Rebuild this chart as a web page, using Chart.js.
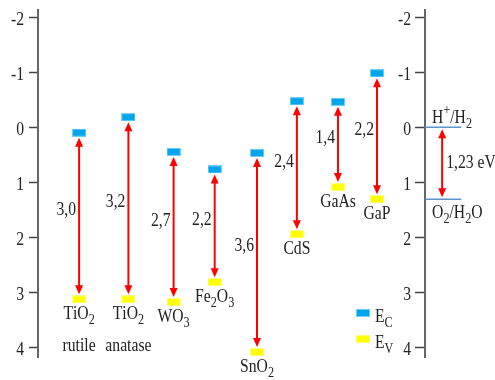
<!DOCTYPE html>
<html>
<head>
<meta charset="utf-8">
<script src="https://cdn.jsdelivr.net/npm/chart.js@4"></script>
<style>
  html, body { margin: 0; padding: 0; background: #fff; }
</style>
</head>
<body>
<canvas id="myChart" width="495" height="380"></canvas>
<script>
// band edges (eV vs NHE)
const materials = ['TiO_2', 'TiO_2', 'WO_3', 'Fe_2O_3', 'SnO_2', 'CdS', 'GaAs', 'GaP'];
const phases = ['rutile', 'anatase', '', '', '', '', '', ''];
const slots = [1, 2.2, 3.3, 4.3, 5.33, 6.3, 7.3, 8.25];
const ecValues = [0.1, -0.18, 0.45, 0.77, 0.47, -0.47, -0.46, -0.98];
const evValues = [3.13, 3.13, 3.18, 2.82, 4.09, 1.95, 1.09, 1.31];
const gapLabels = ['3,0', '3,2', '2,7', '2,2', '3,6', '2,4', '1,4', '2,2'];
const yTicks = [-2, -1, 0, 1, 2, 3, 4];
const redoxLevels = [0, 1.31];
const redoxNames = ['H^+/H_2', 'O_2/H_2O'];
const waterGap = '1,23 eV';
const legendNames = ['E_C', 'E_V'];

const rightAxisAt = 9.42;
const redoxEnd = 10.3;
const FONT = '"Liberation Serif", "Times New Roman", serif';
const TEXT = '#222';
const SQUISH = 0.87;   // the original type is narrow
const BIG = 18, SMALL = 14;

Chart.defaults.font.family = FONT;

function markerImg(fill, edge) {
  const c = document.createElement('canvas');
  c.width = 14; c.height = 8;
  const g = c.getContext('2d');
  g.fillStyle = edge;
  g.fillRect(0, 0, 14, 8);
  g.fillStyle = fill;
  g.fillRect(1, 1, 12, 6);
  return c;
}
const ecImg = markerImg('#00a6ec', '#6fcdf3');
const evImg = markerImg('#ffff00', '#ffff7a');

// tiny markup: _x subscript, ^x superscript; drawn narrow
function richText(ctx, str, x, y, align) {
  const parts = [];
  for (let i = 0; i < str.length; i++) {
    const ch = str[i];
    if ((ch === '_' || ch === '^') && i + 1 < str.length) {
      parts.push({ t: str[i + 1], k: ch });
      i++;
    } else {
      parts.push({ t: ch, k: '' });
    }
  }
  const big = BIG + 'px ' + FONT, small = SMALL + 'px ' + FONT;
  let w = 0;
  parts.forEach(p => {
    ctx.font = p.k ? small : big;
    p.w = ctx.measureText(p.t).width;
    w += p.w;
  });
  ctx.save();
  ctx.translate(x, y);
  ctx.scale(SQUISH, 1);
  let cx = align === 'center' ? -w / 2 : align === 'right' ? -w : 0;
  ctx.textAlign = 'left';
  ctx.textBaseline = 'middle';
  ctx.fillStyle = TEXT;
  parts.forEach(p => {
    ctx.font = p.k ? small : big;
    const dy = p.k === '_' ? 6 : p.k === '^' ? -8 : 0;
    ctx.fillText(p.t, cx, dy);
    cx += p.w;
  });
  ctx.restore();
}

function drawArrow(ctx, px, y1, y2) {
  const head = 9, half = 4;
  ctx.strokeStyle = '#ff0000';
  ctx.fillStyle = '#ff0000';
  ctx.lineWidth = 2;
  ctx.beginPath();
  ctx.moveTo(px, y1 + head - 1);
  ctx.lineTo(px, y2 - head + 1);
  ctx.stroke();
  ctx.beginPath();
  ctx.moveTo(px, y1);
  ctx.lineTo(px - half, y1 + head);
  ctx.lineTo(px + half, y1 + head);
  ctx.closePath();
  ctx.fill();
  ctx.beginPath();
  ctx.moveTo(px, y2);
  ctx.lineTo(px - half, y2 - head);
  ctx.lineTo(px + half, y2 - head);
  ctx.closePath();
  ctx.fill();
}

const bandPlugin = {
  id: 'bands',
  afterDatasetsDraw(chart) {
    const { ctx, scales: { x, y, y2 } } = chart;
    ctx.save();
    materials.forEach((m, i) => {
      const px = x.getPixelForValue(slots[i]);
      const ecPx = y.getPixelForValue(ecValues[i]);
      const evPx = y.getPixelForValue(evValues[i]);
      drawArrow(ctx, px, ecPx + 5, evPx - 5);
      richText(ctx, gapLabels[i], px - 3, (ecPx + evPx) / 2 - 6, 'right');
      richText(ctx, m, px, evPx + 15, 'center');
      if (phases[i]) richText(ctx, phases[i], px, evPx + 47, 'center');
    });

    // tick labels of both axes, on the left of each axis line
    const ax = x.getPixelForValue(rightAxisAt);
    [[y, x.left], [y2, ax]].forEach(([sc, edge]) => {
      sc.ticks.forEach(t => {
        richText(ctx, String(t.value), edge - 14, sc.getPixelForValue(t.value) + 3, 'right');
      });
    });

    // water redox window
    const hPx = y.getPixelForValue(redoxLevels[0]);
    const oPx = y.getPixelForValue(redoxLevels[1]);
    const arrX = x.getPixelForValue((rightAxisAt + redoxEnd) / 2) - 1;
    drawArrow(ctx, arrX, hPx + 2, oPx - 2);
    richText(ctx, redoxNames[0], ax + 7, hPx - 9, 'left');
    richText(ctx, redoxNames[1], ax + 7, oPx + 14, 'left');
    richText(ctx, waterGap, arrX + 4, (hPx + oPx) / 2, 'left');

    // legend
    const lx = x.getPixelForValue(7.91);
    const ly = [y.getPixelForValue(3.38), y.getPixelForValue(3.85)];
    [ecImg, evImg].forEach((img, k) => {
      ctx.drawImage(img, Math.round(lx - 7), Math.round(ly[k] - 4));
      richText(ctx, legendNames[k], lx + 12, ly[k] + 4, 'left');
    });
    ctx.restore();
  }
};

const axisStyle = {
  type: 'linear',
  reverse: true,
  min: -2.13,
  max: 4.18,
  afterBuildTicks: (scale) => { scale.ticks = yTicks.map(v => ({ value: v })); },
  grid: { drawOnChartArea: false, tickLength: 9, tickWidth: 1.5, tickColor: '#444' },
  border: { display: true, color: '#666', width: 2 },
  ticks: { display: false }
};

const ctx = document.getElementById('myChart');
new Chart(ctx, {
  type: 'scatter',
  data: {
    datasets: [
      {
        label: 'E_C',
        data: slots.map((s, i) => ({ x: s, y: ecValues[i] })),
        pointStyle: ecImg
      },
      {
        label: 'E_V',
        data: slots.map((s, i) => ({ x: s, y: evValues[i] })),
        pointStyle: evImg
      },
      ...redoxLevels.map(v => ({
        type: 'line',
        label: 'redox',
        data: [{ x: rightAxisAt, y: v }, { x: redoxEnd, y: v }],
        borderColor: '#5b95d0',
        borderWidth: 1.5,
        pointRadius: 0
      }))
    ]
  },
  options: {
    responsive: false,
    animation: false,
    events: [],
    layout: { padding: { top: 10, bottom: 23, left: 0, right: 5 } },
    plugins: { legend: { display: false }, tooltip: { enabled: false } },
    scales: {
      x: { type: 'linear', display: false, min: 0, max: 11 },
      y: Object.assign({}, axisStyle, {
        position: 'left',
        afterFit: (scale) => { scale.width = 38; }
      }),
      y2: Object.assign({}, axisStyle, {
        position: { x: rightAxisAt }
      })
    }
  },
  plugins: [bandPlugin]
});
</script>
</body>
</html>
